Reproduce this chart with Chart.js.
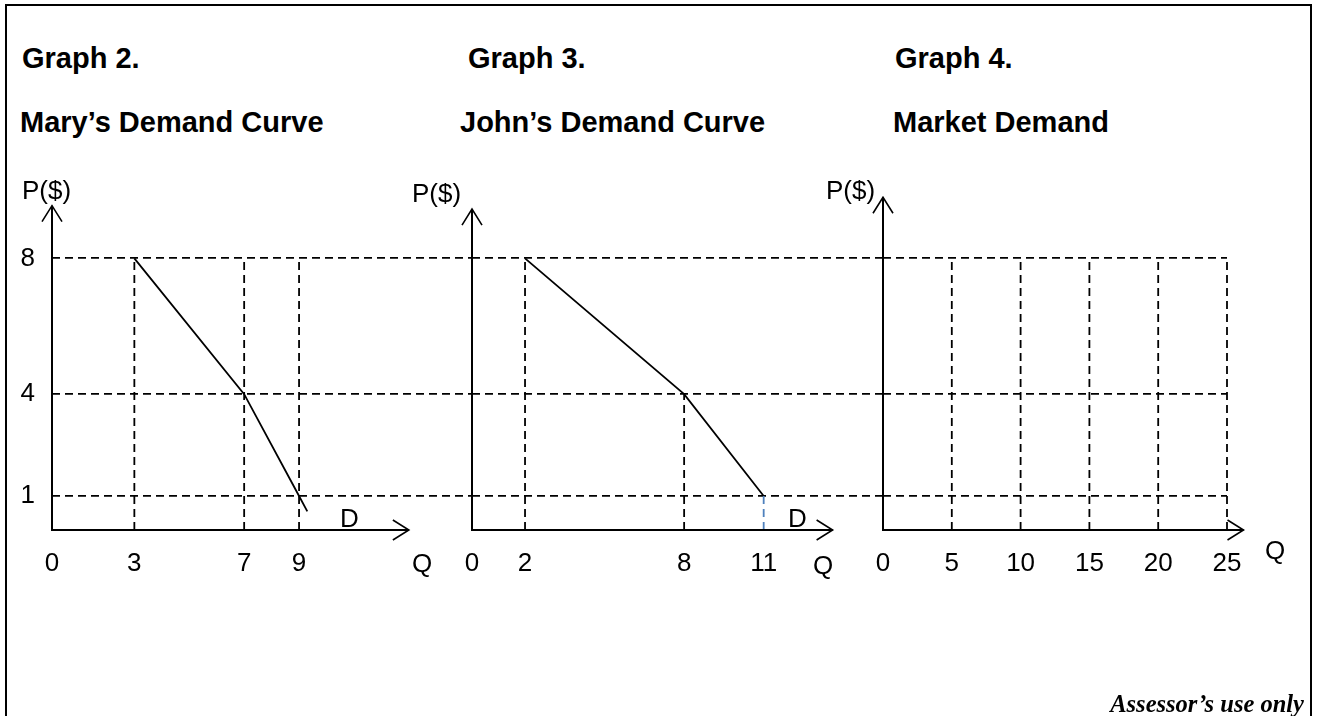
<!DOCTYPE html>
<html>
<head>
<meta charset="utf-8">
<script src="https://cdn.jsdelivr.net/npm/chart.js@4.4.1/dist/chart.umd.min.js"></script>
<style>
  body { margin: 0; width: 1317px; height: 716px; background: #fff; position: relative; overflow: hidden;
         font-family: "Liberation Sans", Arial, sans-serif; color: #000; }
  .frame { position: absolute; left: 5px; top: 4px; width: 1307px; height: 800px; box-sizing: border-box;
           border-top: 2px solid #000; border-left: 2px solid #000; border-right: 2px solid #000; }
  canvas { position: absolute; top: 0; }
  .t { position: absolute; white-space: nowrap; }
  .title { font-size: 29px; line-height: 29px; font-weight: bold; }
  .lbl { font-size: 26px; line-height: 26px; }
  .assessor { position: absolute; right: 13px; top: 692px; font-family: "Liberation Serif", "Times New Roman", serif;
              font-size: 24.5px; line-height: 24px; font-weight: bold; font-style: italic; }
</style>
</head>
<body>
<div class="frame"></div>

<div class="t title" style="left:22px; top:44px">Graph 2.</div>
<div class="t title" style="left:20px; top:108px">Mary’s Demand Curve</div>
<div class="t title" style="left:468px; top:44px">Graph 3.</div>
<div class="t title" style="left:460px; top:108px">John’s Demand Curve</div>
<div class="t title" style="left:895px; top:44px">Graph 4.</div>
<div class="t title" style="left:893px; top:108px">Market Demand</div>

<canvas id="chartMary" width="480" height="716" style="left:0px"></canvas>
<canvas id="chartJohn" width="480" height="716" style="left:420px"></canvas>
<canvas id="chartMarket" width="460" height="716" style="left:840px"></canvas>

<div class="t lbl" style="left:22px; top:177px">P($)</div>
<div class="t lbl" style="left:412px; top:180px">P($)</div>
<div class="t lbl" style="left:826px; top:177px">P($)</div>
<div class="t lbl" style="left:412px; top:550px">Q</div>
<div class="t lbl" style="left:813px; top:552px">Q</div>
<div class="t lbl" style="left:1265px; top:537px">Q</div>
<div class="t lbl" style="left:340px; top:505px">D</div>
<div class="t lbl" style="left:788px; top:505px">D</div>

<div class="assessor">Assessor’s use only</div>

<script>
// price levels marked on every graph
const priceTicks = [1, 4, 8];

// Mary's demand schedule
const maryQty = [3, 7, 9];
const maryPrice = [8, 4, 1];
const maryGuideTop = [8, 8, 8];
const maryTail = { x: 9.3, y: 0.55 }; // curve runs a little past (9, 1)

// John's demand schedule
const johnQty = [2, 8, 11];
const johnPrice = [8, 4, 1];
const johnGuideTop = [8, 4, 1];

// Market demand (blank grid)
const marketTicks = [0, 5, 10, 15, 20, 25];
const marketGuideTop = [8, 8, 8, 8, 8];

Chart.defaults.font.family = '"Liberation Sans", Arial, sans-serif';
Chart.defaults.font.size = 26;
Chart.defaults.color = '#000';

// axes with open arrow heads
const arrowAxes = {
    id: 'arrowAxes',
    afterDatasetsDraw(chart, args, opts) {
        const { ctx, scales: { x, y } } = chart;
        const x0 = x.getPixelForValue(0), y0 = y.getPixelForValue(0);
        const xEnd = x.getPixelForValue(opts.qEnd), yEnd = y.getPixelForValue(opts.pEnd);
        ctx.save();
        ctx.setLineDash([]);
        ctx.strokeStyle = '#000';
        ctx.lineWidth = 2;
        ctx.beginPath();
        ctx.moveTo(x0, yEnd);
        ctx.lineTo(x0, y0);
        ctx.lineTo(xEnd, y0);
        ctx.stroke();
        ctx.lineWidth = 1.6;
        ctx.beginPath();
        ctx.moveTo(x0 - 10, yEnd + 16); ctx.lineTo(x0, yEnd); ctx.lineTo(x0 + 10, yEnd + 16);
        ctx.moveTo(xEnd - 16, y0 - 10); ctx.lineTo(xEnd, y0); ctx.lineTo(xEnd - 16, y0 + 10);
        ctx.stroke();
        ctx.restore();
    }
};

function guide(q, top, color) {
    return {
        data: [{ x: q, y: 0 }, { x: q, y: top }],
        borderColor: color || '#000',
        borderWidth: 1.8,
        borderDash: [8, 5],
        clip: false
    };
}

function makeChart(id, cfg) {
    return new Chart(document.getElementById(id), {
        type: 'scatter',
        data: { datasets: cfg.datasets },
        plugins: [arrowAxes],
        options: {
            responsive: false,
            animation: false,
            showLine: true,
            layout: { padding: cfg.padding },
            elements: { point: { radius: 0, hoverRadius: 0 }, line: { tension: 0 } },
            plugins: {
                legend: { display: false },
                tooltip: { enabled: false },
                arrowAxes: cfg.axisEnd
            },
            scales: {
                x: {
                    type: 'linear',
                    min: 0,
                    max: cfg.qMax,
                    afterBuildTicks: s => { s.ticks = cfg.qTicks.map(v => ({ value: v })); },
                    afterFit: s => { s.height = 60; },
                    grid: { display: false, drawTicks: false },
                    border: { display: false },
                    ticks: { padding: 18, autoSkip: false, maxRotation: 0 }
                },
                y: {
                    type: 'linear',
                    min: 0,
                    max: 9.6,
                    afterBuildTicks: s => { s.ticks = priceTicks.map(v => ({ value: v })); },
                    afterFit: s => { s.width = cfg.showPrice ? 40 : 0; },
                    grid: { color: '#000', lineWidth: 1.8, drawTicks: false },
                    border: { display: false, dash: [8, 5] },
                    ticks: { display: cfg.showPrice, padding: 17 }
                }
            }
        }
    });
}

const chartMary = makeChart('chartMary', {
    qMax: 15.3,
    qTicks: [0, ...maryQty],
    showPrice: true,
    padding: { left: 12, right: 8, top: 204, bottom: 126 },
    axisEnd: { qEnd: 13.0, pEnd: 9.55 },
    datasets: [
        ...maryQty.map((q, i) => guide(q, maryGuideTop[i])),
        {
            label: 'D',
            data: maryQty.map((q, i) => ({ x: q, y: maryPrice[i] })).concat([maryTail]),
            borderColor: '#000',
            borderWidth: 1.8
        }
    ]
});

const chartJohn = makeChart('chartJohn', {
    qMax: 15.5,
    qTicks: [0, ...johnQty],
    showPrice: false,
    padding: { left: 52, right: 17, top: 204, bottom: 126 },
    axisEnd: { qEnd: 13.6, pEnd: 9.45 },
    datasets: [
        ...johnQty.map((q, i) => guide(q, johnGuideTop[i], i === johnQty.length - 1 ? '#4f81bd' : '#000')),
        {
            label: 'D',
            data: johnQty.map((q, i) => ({ x: q, y: johnPrice[i] })),
            borderColor: '#000',
            borderWidth: 1.8
        }
    ]
});

const chartMarket = makeChart('chartMarket', {
    qMax: 25,
    qTicks: marketTicks,
    showPrice: false,
    padding: { left: 43, right: 73, top: 204, bottom: 126 },
    axisEnd: { qEnd: 26.2, pEnd: 9.8 },
    datasets: marketTicks.slice(1).map((q, i) => guide(q, marketGuideTop[i]))
});
</script>
</body>
</html>
